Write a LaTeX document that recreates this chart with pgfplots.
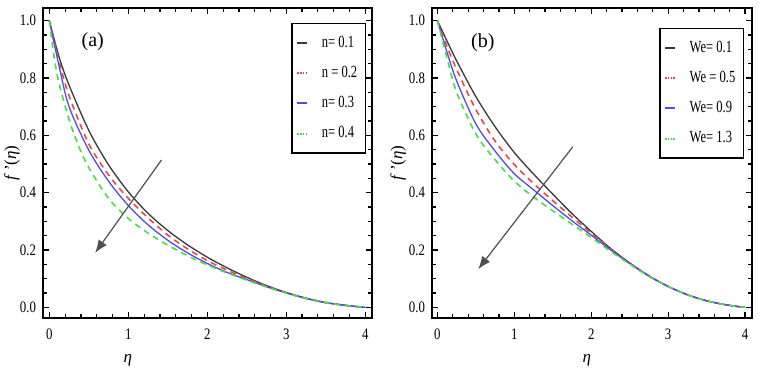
\documentclass[border=0pt]{standalone}
\usepackage{fontspec}
\setmainfont{Liberation Serif}
\newfontfamily\narrowserif{Liberation Serif}[FakeStretch=0.8]
\newfontfamily\legendserif{Liberation Serif}[FakeStretch=0.74]
\usepackage{pgfplots}
\pgfplotsset{compat=1.18}
\usetikzlibrary{arrows.meta}

\definecolor{cblack}{HTML}{3A3A3A}
\definecolor{cred}{HTML}{E84848}
\definecolor{cblue}{HTML}{4E4EE6}
\definecolor{cgreen}{HTML}{48DE48}
\definecolor{carrow}{HTML}{505050}

\pgfplotsset{
  panel/.style={
    scale only axis, height=155pt,
    xmin=-0.08, xmax=4.085, ymin=-0.037, ymax=1.044,
    xtick={0,1,2,3,4}, ytick={0,0.2,0.4,0.6,0.8,1.0},
    minor x tick num=4, minor y tick num=3,
    tick align=inside, major tick length=3pt, minor tick length=1.8pt,
    axis line style={line width=0.7pt},
    every tick/.style={black, line width=0.6pt},
    yticklabel style={/pgf/number format/.cd, fixed, fixed zerofill, precision=1},
    xticklabel style={yshift=-2pt},
    tick label style={font=\narrowserif\fontsize{8}{9}\selectfont},
    /pgf/number format/assume math mode=true,
    xlabel={\textit{η}}, ylabel={\textit{f}\,'(\textit{η})},
    label style={font=\fontsize{8.5}{9}\selectfont},
    legend cell align=left,
    legend style={font=\legendserif\fontsize{8.5}{9}\selectfont, draw=black, line width=0.7pt,
      row sep=4pt, inner xsep=2pt, inner ysep=4pt},
    legend image code/.code={\draw[#1, solid, line width=1pt] (0pt,0pt) -- (5pt,0pt); \path (10pt,0pt);},
  },
  sblack/.style={cblack, line width=0.65pt, smooth},
  sred/.style={cred, line width=0.8pt, smooth, dash pattern=on 3pt off 2.4pt,
    legend image code/.code={\draw[cred, line width=1pt, dash pattern=on 0.8pt off 0.6pt] (0pt,0pt) -- (5pt,0pt); \path (10pt,0pt);}},
  sblue/.style={cblue, line width=0.65pt, smooth},
  sgreen/.style={cgreen, line width=0.8pt, smooth, dash pattern=on 3pt off 2.4pt,
    legend image code/.code={\draw[cgreen, line width=1pt, dash pattern=on 0.8pt off 0.6pt] (0pt,0pt) -- (5pt,0pt); \path (10pt,0pt);}},
}

\begin{document}
\begin{tikzpicture}
\path[use as bounding box] (0,0) rectangle (383pt,189.5pt);

% (a)
\begin{axis}[panel, width=164.5pt, at={(21.5pt,30.5pt)}, anchor=south west,
  xlabel style={at={(axis description cs:0.258,0)}, anchor=center, yshift=-21pt},
  ylabel style={at={(axis description cs:-0.094,0.5)}, anchor=center},
  legend style={at={(1,1)}, anchor=north east, xshift=-3pt, yshift=-7.5pt},
]
\addplot[sblack] coordinates {(0,1) (0.125,0.872) (0.25,0.775) (0.5,0.617) (0.75,0.497) (1.0,0.403) (1.25,0.328) (1.5,0.268) (1.75,0.218) (2.0,0.175) (2.25,0.138) (2.5,0.105) (2.75,0.076) (3.0,0.052) (3.25,0.032) (3.5,0.017) (3.75,0.007) (4,0)};
\addlegendentry{n= 0.1}
\addplot[sred] coordinates {(0,1) (0.125,0.857) (0.25,0.738) (0.5,0.57) (0.75,0.462) (1.0,0.38) (1.25,0.312) (1.5,0.252) (1.75,0.204) (2.0,0.163) (2.25,0.13) (2.5,0.101) (2.75,0.074) (3.0,0.051) (3.25,0.032) (3.5,0.017) (3.75,0.007) (4,0)};
\addlegendentry{n = 0.2}
\addplot[sblue] coordinates {(0,1) (0.125,0.84) (0.25,0.70) (0.5,0.548) (0.75,0.44) (1.0,0.355) (1.25,0.288) (1.5,0.234) (1.75,0.19) (2.0,0.153) (2.25,0.122) (2.5,0.097) (2.75,0.072) (3.0,0.05) (3.25,0.031) (3.5,0.016) (3.75,0.007) (4,0)};
\addlegendentry{n= 0.3}
\addplot[sgreen] coordinates {(0,1) (0.0625,0.87) (0.125,0.78) (0.25,0.655) (0.375,0.56) (0.5,0.487) (0.75,0.38) (1.0,0.31) (1.25,0.259) (1.5,0.217) (1.75,0.18) (2.0,0.148) (2.25,0.12) (2.5,0.095) (2.75,0.071) (3.0,0.05) (3.25,0.031) (3.5,0.016) (3.75,0.007) (4,0)};
\addlegendentry{n= 0.4}
\draw[carrow, line width=0.6pt, -{Latex[length=6.5pt,width=5pt]}] (axis cs:1.42,0.514) -- (axis cs:0.58,0.19);
\node[font=\fontsize{10}{11}\selectfont] at (axis cs:0.55,0.926) {(a)};
\end{axis}

% (b)
\begin{axis}[panel, width=160pt, at={(216pt,30.5pt)}, anchor=south west,
  xmin=-0.07, xmax=4.09,
  xlabel style={at={(axis description cs:0.484,0)}, anchor=center, yshift=-21pt},
  ylabel style={at={(axis description cs:-0.106,0.5)}, anchor=center},
  legend style={at={(1,1)}, anchor=north east, xshift=-4pt, yshift=-10pt},
]
\addplot[sblack] coordinates {(0,1) (0.125,0.929) (0.25,0.86) (0.5,0.735) (0.75,0.63) (1.0,0.54) (1.25,0.465) (1.5,0.395) (1.75,0.327) (2.0,0.265) (2.25,0.206) (2.5,0.155) (2.75,0.11) (3.0,0.073) (3.25,0.044) (3.5,0.023) (3.75,0.009) (4,0)};
\addlegendentry{We= 0.1}
\addplot[sred] coordinates {(0,1) (0.125,0.91) (0.25,0.83) (0.5,0.69) (0.75,0.58) (1.0,0.498) (1.25,0.432) (1.5,0.372) (1.75,0.315) (2.0,0.259) (2.25,0.204) (2.5,0.154) (2.75,0.11) (3.0,0.073) (3.25,0.044) (3.5,0.023) (3.75,0.009) (4,0)};
\addlegendentry{We = 0.5}
\addplot[sblue] coordinates {(0,1) (0.125,0.89) (0.25,0.79) (0.5,0.64) (0.75,0.545) (1.0,0.466) (1.25,0.41) (1.5,0.355) (1.75,0.302) (2.0,0.252) (2.25,0.201) (2.5,0.153) (2.75,0.109) (3.0,0.073) (3.25,0.044) (3.5,0.023) (3.75,0.009) (4,0)};
\addlegendentry{We= 0.9}
\addplot[sgreen] coordinates {(0,1) (0.125,0.87) (0.25,0.75) (0.5,0.605) (0.75,0.515) (1.0,0.44) (1.25,0.385) (1.5,0.337) (1.75,0.29) (2.0,0.244) (2.25,0.196) (2.5,0.151) (2.75,0.108) (3.0,0.073) (3.25,0.044) (3.5,0.023) (3.75,0.009) (4,0)};
\addlegendentry{We= 1.3}
\draw[carrow, line width=0.6pt, -{Latex[length=6.5pt,width=5pt]}] (axis cs:1.76,0.56) -- (axis cs:0.53,0.133);
\node[font=\fontsize{10}{11}\selectfont] at (axis cs:0.59,0.923) {(b)};
\end{axis}
\end{tikzpicture}
\end{document}
